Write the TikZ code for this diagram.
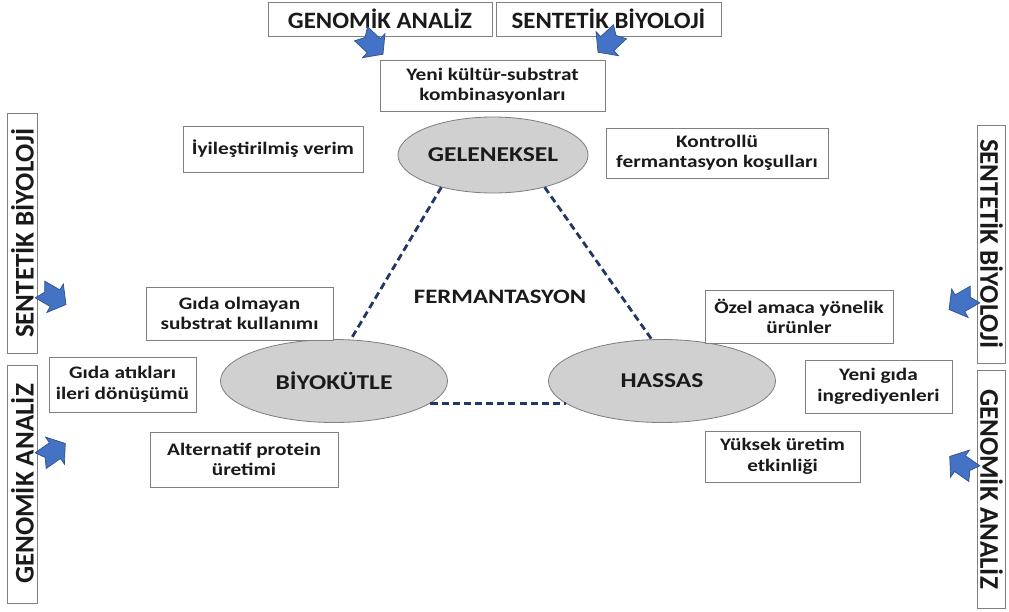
\documentclass[tikz,border=0pt]{standalone}
\usepackage{fontspec}
\setmainfont{Carlito}
\newfontfamily\widefont{Carlito}[FakeStretch=1.21]
\newfontfamily\toolfont{Carlito}[FakeStretch=1.06]
\definecolor{txt}{HTML}{1A1A1A}
\definecolor{boxline}{HTML}{808080}
\definecolor{ellfill}{HTML}{D0D0D0}
\definecolor{ellline}{HTML}{7F7F7F}
\definecolor{dashcol}{HTML}{1F3864}
\definecolor{arrowfill}{HTML}{4472C4}
\definecolor{arrowline}{HTML}{2F528F}
\tikzset{
  sz/.style 2 args={minimum width=#1*0.03cm, minimum height=#2*0.03cm},
  small/.style={font=\widefont\bfseries\fontsize{15}{17.5}\selectfont, text=txt, align=center},
  infobox/.style={draw=boxline, line width=0.7pt, fill=white, inner sep=0pt, small},
  toolbox/.style={draw=boxline, line width=0.7pt, fill=white, inner sep=0pt,
    font=\toolfont\bfseries\fontsize{20}{22}\selectfont, text=txt},
  sidebox/.style={toolbox, font=\bfseries\fontsize{23}{25}\selectfont},
  hub/.style={ellipse, draw=ellline, line width=0.7pt, fill=ellfill, inner sep=0pt,
    font=\widefont\bfseries\fontsize{18}{20}\selectfont, text=txt},
  link/.style={draw=dashcol, line width=2.4pt, dash pattern=on 6pt off 3.5pt},
  notched/.pic={
    \filldraw[fill=arrowfill, draw=arrowline, line width=0.6pt]
      (-0.5,-0.32) -- (0.08,-0.32) -- (0.08,-0.55) -- (0.5,0) -- (0.08,0.55)
      -- (0.08,0.32) -- (-0.5,0.32) -- (-0.32,0) -- cycle;
  }
}
\usetikzlibrary{shapes.geometric}
\begin{document}
\begin{tikzpicture}[x=0.03cm, y=-0.03cm]
\fill[white] (0,0) rectangle (1009,611);
\useasboundingbox (0,0) rectangle (1009,611);

% tool boxes along the top
\node[toolbox, sz={224}{34}] (gentop) at (380,19) {GENOMİK ANALİZ};
\node[toolbox, sz={225}{34}] (sentop) at (608.5,19) {SENTETİK BİYOLOJİ};

% tool boxes on the left (read upwards) and right (read downwards)
\node[sidebox, rotate=90, sz={240}{30}] (senleft) at (22.5,233) {SENTETİK BİYOLOJİ};
\node[sidebox, rotate=90, sz={238}{30}] (genleft) at (22.5,484) {GENOMİK ANALİZ};
\node[sidebox, rotate=-90, sz={238}{28}] (senright) at (991.5,244) {SENTETİK BİYOLOJİ};
\node[sidebox, rotate=-90, sz={238}{28}] (genright) at (991.5,489) {GENOMİK ANALİZ};

% the three fermentation types
\node[hub, sz={190}{76}] (gel) at (493,155) {GELENEKSEL};
\node[hub, sz={227}{83}] (bio) at (334,381) {BİYOKÜTLE};
\node[hub, sz={227}{83}] (hass) at (662,381) {HASSAS};
\node[font=\widefont\bfseries\fontsize{17.5}{20}\selectfont, text=txt] (ferm) at (500,297) {FERMANTASYON};

% dashed triangle between the types
\draw[link] (gel.212) -- (bio.68);
\draw[link] (gel.328) -- (hass.104);
\draw[link] (bio.-13) -- (hass.193);

% features of each fermentation type
\node[infobox, sz={225}{51}] (kultur) at (492.5,85.5) {Yeni kültür-substrat\\kombinasyonları};
\node[infobox, sz={180}{46}] (verim) at (273,149) {İyileştirilmiş verim};
\node[infobox, sz={222}{50}] (kosul) at (717,153) {Kontrollü\\fermantasyon koşulları};
\node[infobox, sz={187}{53}] (substrat) at (239.5,313.5) {Gıda olmayan\\substrat kullanımı};
\node[infobox, sz={147}{55}] (atik) at (122.5,384.5) {Gıda atıkları\\ileri dönüşümü};
\node[infobox, sz={188}{55}] (protein) at (244,459.5) {Alternatif protein\\üretimi};
\node[infobox, sz={188}{53}] (ozel) at (799,316.5) {Özel amaca yönelik\\ürünler};
\node[infobox, sz={147}{53}] (ingr) at (878.5,386.5) {Yeni gıda\\ingrediyenleri};
\node[infobox, sz={155}{51}] (etkin) at (782.5,456.5) {Yüksek üretim\\etkinliği};

% block arrows from the tools
\pic[rotate=-43, scale=30] at (372,44) {notched};
\pic[rotate=223, scale=30] at (609,42) {notched};
\pic[rotate=-30, scale=30] at (53,297) {notched};
\pic[rotate=35, scale=30] at (53,452) {notched};
\pic[rotate=210, scale=30] at (962,302) {notched};
\pic[rotate=145, scale=30] at (962,465) {notched};
\end{tikzpicture}
\end{document}
